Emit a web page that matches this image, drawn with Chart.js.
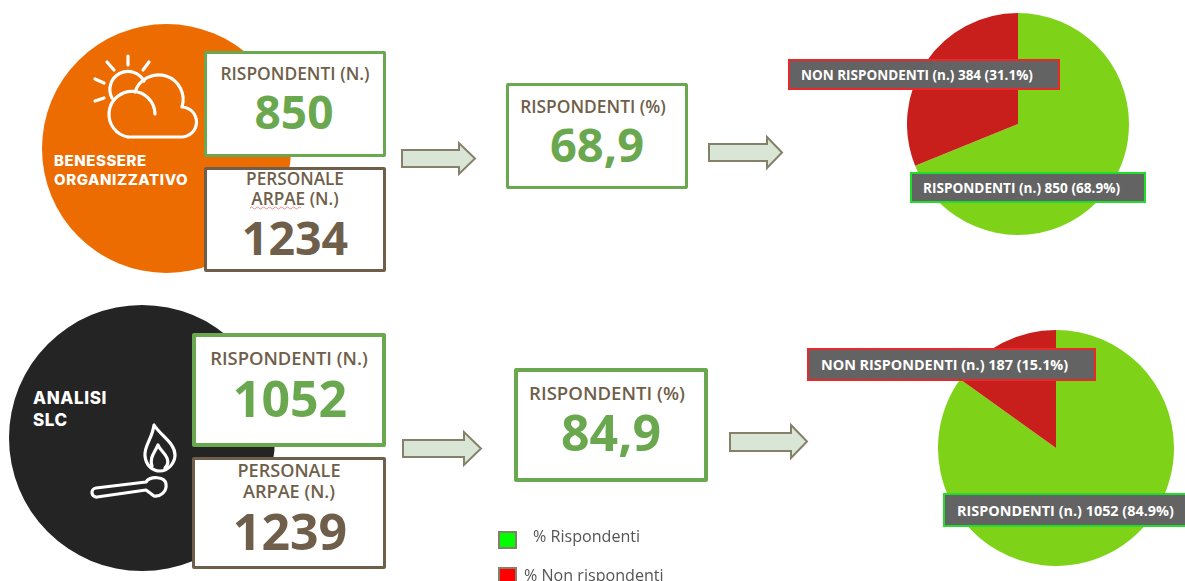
<!DOCTYPE html>
<html>
<head>
<meta charset="utf-8">
<title>Rispondenti</title>
<script src="https://cdn.jsdelivr.net/npm/chart.js@4/dist/chart.umd.js"></script>
<style>
  html, body { margin: 0; padding: 0; background: #fff; }
  #page { position: relative; width: 1185px; height: 581px; overflow: hidden; font-family: "Open Sans", sans-serif; }
  #page > * { position: absolute; }
  .circle { border-radius: 50%; }
  .box { box-sizing: border-box; background: #fff; border: 3px solid #6aa84f; border-radius: 2px; }
  .box.big { border-width: 4px; }
  .box.brown { border-color: #6f5f4a; }
  .txt { transform: translate(-50%, -50%); white-space: nowrap; line-height: 1; font-weight: 600; color: #6f5f4a; }
  .num { font-weight: 700; }
  .green { color: #6aa84f; }
  .title { font-family: Inter, sans-serif; font-weight: 800; color: #fff; line-height: 1; white-space: nowrap; transform: translateY(-50%); }
  .pielabel { box-sizing: border-box; background: #636363; border: 2px solid #e8282a; color: #fff; font-weight: 700; white-space: nowrap; display: flex; align-items: center; }
  .pielabel.ok { border-color: #22dd2a; }
  .swatch { box-sizing: border-box; width: 19px; height: 18px; border: 2px solid #85806a; }
  .legendtxt { font-size: 16.1px; color: #555; white-space: nowrap; line-height: 1; transform: translateY(-50%); }
</style>
</head>
<body>
<div id="page">
  <div class="circle" style="left:42px;top:24px;width:249px;height:249px;background:#ed6c02"></div>
  <div class="circle" style="left:9px;top:305px;width:266px;height:266px;background:#242424"></div>

  <svg style="left:0;top:0" width="1185" height="581" fill="none" stroke="#fff" stroke-width="3.2" stroke-linecap="round" stroke-linejoin="round">
    <!-- sole e nuvola -->
    <path d="M128 137 H181 A15 15 0 0 0 182 107 A24 24 0 0 0 135 92"/>
    <path d="M128 137 A23 23 0 1 1 155 114"/>
    <path d="M112 98 A18 18 0 0 1 144 81"/>
    <path d="M128 56 V65 M107 62 L114 70 M149 62 L143 70 M95 79 L104 83 M95 101 L104 98"/>
    <!-- fiammifero -->
    <path d="M96 488 L146 482 C150 476 165 476 166 484 C167 492 160 497 154 496 L146 490 L97 497 A4.5 4.5 0 0 1 96 488 Z"/>
    <path d="M154 425 C152 440 144 445 145 456 C146 466 153 471 160 471 C168 471 175 463 175 455 C175 443 161 436 154 425 Z"/>
    <path d="M152 466 C149 458 155 452 158 445 C160 450 165 453 167 458 C169 463 167 466 165 468"/>
  </svg>

  <canvas id="pie1" width="222" height="222" style="left:907px;top:13px;width:222px;height:222px"></canvas>
  <canvas id="pie2" width="236" height="236" style="left:938px;top:330px;width:236px;height:236px"></canvas>

  <div class="box" style="left:204px;top:51px;width:182px;height:106px"></div>
  <div class="box brown" style="left:204px;top:167px;width:182px;height:105px"></div>
  <div class="box big" style="left:192px;top:333px;width:194px;height:114px"></div>
  <div class="box brown" style="left:192px;top:457px;width:194px;height:112px"></div>
  <div class="box" style="left:506px;top:83px;width:182px;height:106px"></div>
  <div class="box big" style="left:514px;top:368px;width:194px;height:114px"></div>

  <div class="title" id="t1a" style="left:54px;top:160px;font-size:15px;letter-spacing:.55px"></div>
  <div class="title" id="t1b" style="left:54px;top:179px;font-size:15px;letter-spacing:.55px"></div>
  <div class="title" id="t2a" style="left:33px;top:398px;font-size:17px;letter-spacing:.6px"></div>
  <div class="title" id="t2b" style="left:33px;top:420px;font-size:17px;letter-spacing:.6px"></div>

  <div class="txt" id="lab1" style="left:295px;top:74px;font-size:17.4px"></div>
  <div class="txt num green" id="val1" style="left:294px;top:111px;font-size:46px"></div>
  <div class="txt" id="per1a" style="left:295px;top:179px;font-size:17.2px"></div>
  <div class="txt" id="per1b" style="left:295px;top:199px;font-size:17.2px"></div>
  <div class="txt num" id="tot1" style="left:295px;top:237px;font-size:46.500px"></div>

  <div class="txt" id="lab2" style="left:289px;top:358px;font-size:18.4px"></div>
  <div class="txt num green" id="val2" style="left:290px;top:398px;font-size:50px"></div>
  <div class="txt" id="per2a" style="left:289px;top:470px;font-size:18.100px"></div>
  <div class="txt" id="per2b" style="left:289px;top:491px;font-size:18.100px"></div>
  <div class="txt num" id="tot2" style="left:290px;top:531px;font-size:50px"></div>

  <div class="txt" id="perc1" style="left:593px;top:107px;font-size:17.4px"></div>
  <div class="txt num green" id="pval1" style="left:597px;top:144px;font-size:47px"></div>
  <div class="txt" id="perc2" style="left:607px;top:393px;font-size:18.6px"></div>
  <div class="txt num green" id="pval2" style="left:611px;top:432px;font-size:50px"></div>

  <svg style="left:0;top:0" width="1185" height="581" fill="#d9e6d6" stroke="#85806a" stroke-width="2">
    <path d="M402 150 H459 V143 L475 158.500 L459 174 V167 H402 Z"/>
    <path d="M709 144 H767 V137 L782 152.500 L767 168 V161 H709 Z"/>
    <path d="M403 440 H464 V432 L481 448.500 L464 465 V457 H403 Z"/>
    <path d="M730 433 H791 V425 L807 441.500 L791 458 V451 H730 Z"/>
    <path d="M250 208 q1.500 -2 3 0 t3 0 t3 0 t3 0 t3 0 t3 0 t3 0 t3 0 t3 0 t3 0 t3 0 t3 0 t3 0 t3 0 t3 0 t3 0 t3 0" fill="none" stroke="#e8908c" stroke-width="1"/>
  </svg>

  <div class="pielabel" id="non1" style="left:788px;top:59px;width:272px;height:31px;padding-left:11px;font-size:13.5px"></div>
  <div class="pielabel ok" id="si1" style="left:910px;top:172px;width:236px;height:31px;padding-left:11px;font-size:13.6px"></div>
  <div class="pielabel" id="non2" style="left:807px;top:348px;width:289px;height:33px;padding-left:12px;font-size:14.4px"></div>
  <div class="pielabel ok" id="si2" style="left:943px;top:493px;width:250px;height:34px;padding-left:12px;font-size:14.4px"></div>

  <div class="swatch" style="left:498px;top:531px;background:#00ff00"></div>
  <div class="legendtxt" id="leg1" style="left:533px;top:536px"></div>
  <div class="swatch" style="left:498px;top:567px;background:#ff0000"></div>
  <div class="legendtxt" id="leg2" style="left:524px;top:575px"></div>
</div>

<script>
const titoli = [["BENESSERE", "ORGANIZZATIVO"], ["ANALISI", "SLC"]];
const categorie = ["RISPONDENTI", "NON RISPONDENTI"];
const legenda = ["% Rispondenti", "% Non rispondenti"];
const rispondenti = [850, 1052];
const nonRispondenti = [384, 187];
const personale = [1234, 1239];
const percRispondenti = [68.9, 84.9];
const percNonRispondenti = [31.1, 15.1];

const coloreSi = "#7ed319";
const coloreNo = "#c81e1c";

function setText(id, text) {
  document.getElementById(id).textContent = text;
}

function createPie(id, i) {
  const ctx = document.getElementById(id).getContext("2d");
  return new Chart(ctx, {
    type: "pie",
    data: {
      labels: categorie,
      datasets: [
        {
          data: [rispondenti[i], nonRispondenti[i]],
          backgroundColor: [coloreSi, coloreNo],
          borderWidth: 0,
          hoverOffset: 0,
        },
      ],
    },
    options: {
      responsive: false,
      animation: false,
      layout: { padding: 0 },
      plugins: {
        legend: { display: false },
        tooltip: { enabled: false },
      },
    },
  });
}

[0, 1].forEach((i) => {
  const n = i + 1;
  setText("t" + n + "a", titoli[i][0]);
  setText("t" + n + "b", titoli[i][1]);
  setText("lab" + n, "RISPONDENTI (N.)");
  setText("val" + n, rispondenti[i]);
  setText("per" + n + "a", "PERSONALE");
  setText("per" + n + "b", "ARPAE (N.)");
  setText("tot" + n, personale[i]);
  setText("perc" + n, "RISPONDENTI (%)");
  setText("pval" + n, String(percRispondenti[i]).replace(".", ","));
  setText("non" + n, categorie[1] + " (n.) " + nonRispondenti[i] + " (" + percNonRispondenti[i] + "%)");
  setText("si" + n, categorie[0] + " (n.) " + rispondenti[i] + " (" + percRispondenti[i] + "%)");
  setText("leg" + n, legenda[i]);
  createPie("pie" + n, i);
});
</script>
</body>
</html>
